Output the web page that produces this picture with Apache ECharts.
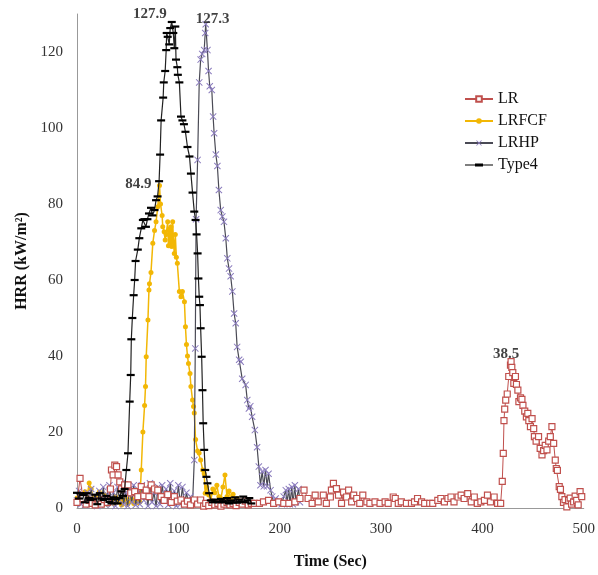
<!DOCTYPE html>
<html>
<head>
<meta charset="utf-8">
<script src="https://cdn.jsdelivr.net/npm/echarts@6/dist/echarts.min.js"></script>
<style>
html,body{margin:0;padding:0;background:#fff;}
#chart{width:598px;height:575px;}
</style>
</head>
<body>
<div id="chart"></div>
<script>
// ---- data: [time (s), HRR (kW/m2)] ----
const seriesNames = ['LR', 'LRFCF', 'LRHP', 'Type4'];

const lrData = [
[0,1.5],[3,7.8],[6,2.5],[9,1],[12,2],[15,1.2],[18,0.8],[21,1.8],[24,1],[27,2.2],[30,1.5],[33,5],[34,10],[35.6,8.7],[37.3,11.3],[39,10.9],[40.5,8.7],[42.2,6.9],[44,5],[47,6.1],[50.3,6.1],[53,4],[56.9,4.3],[60,3],[63.4,5.6],[66,3.2],[68.3,4.7],[71,3],[73.2,6.1],[76.5,5],[79.7,4.7],[83,3],[86,2],[89.5,3.5],[93,1.5],[96,3],[99,1.8],[102.6,2.1],[106,1],[109,1.8],[112,0.8],[115.7,2.1],[119,1],[122,2.1],[125,0.5],[127,1.2],[130,0.6],[133,1.5],[136,0.8],[139,1.2],[142,0.5],[145,1.0],[148,1.5],[151,0.8],[154,1.2],[157,0.6],[160,1.5],[163,1.0],[166,1.8],[169,0.8],[172,1.2],[175,1.2],[180,1.2],[184,1.6],[189,2.0],[194,1.2],[199,1.6],[204,1.2],[209,1.2],[215,1.6],[220,2.5],[224,4.7],[228,2.5],[232,1.2],[235,3.4],[238,1.6],[243,3.4],[246,1.2],[250,2.9],[251,4.7],[253,6.5],[256,5.1],[258,3.4],[261,1.2],[263,4.2],[266,2.9],[268,4.7],[271,1.6],[273,3.4],[276,2.5],[279,1.2],[282,3.4],[286,1.6],[289,1.2],[294,1.6],[299,1.2],[304,1.6],[307,1.2],[312,2.9],[314,2.5],[317,1.2],[320,1.6],[325,1.2],[330,1.2],[333,1.6],[336,2.5],[340,1.6],[343,1.2],[348,1.2],[351,1.2],[356,2.0],[359,2.5],[362.5,1.6],[366,2.5],[369,2.9],[372,1.6],[376,2.9],[379,3.4],[382,2.5],[385.5,3.8],[389,1.6],[392,2.9],[395,1.2],[398.5,1.6],[402,2.0],[405,3.4],[408,1.6],[411.6,2.9],[415,1.2],[418,1.2],[419.6,7],[420.6,14.4],[421.3,23],[422,26],[423,28.4],[424.5,30],[426,34.6],[427.7,37.6],[428.3,38.5],[429,37],[430,35.6],[431,32.8],[432.6,34.6],[433.6,32.5],[435,31],[436,28],[437.6,29],[439,28.6],[440,27],[441.8,25.5],[443.4,24],[444.8,24.9],[445.8,23],[447.4,21.4],[449,23.5],[450.6,20.9],[451.3,18.8],[453,17.6],[455.4,18.8],[457,15.7],[458.8,14],[460.4,15.1],[462,16.5],[463.7,15.3],[465.4,17.6],[467,18.8],[468.6,21.4],[470.3,17],[471.9,12.6],[472.9,10.4],[474,9.9],[475.8,5.6],[477,4.9],[478.4,3],[480,1.5],[481.5,2.2],[483.3,0.3],[485,2],[486.6,2.6],[488,1],[490,1.6],[491.5,3.1],[493,2],[494.5,0.8],[496.4,4.3],[498,3]
];

const lrfcfData = [
[0,2.6],[2,1.5],[4,3.5],[6,2.2],[8,4.3],[10,3.0],[12,6.6],[14,5.0],[16,2.5],[18,3.0],[20,1.5],[22,4.2],[24,2.2],[26,2.0],[28,3.4],[30,1.0],[32,2.5],[34,1.8],[36,1.2],[38,3.0],[40,1.5],[42,2.2],[44,0.8],[46,1.8],[48,2.5],[50,1.0],[52,1.8],[54,2.4],[56,1.2],[58,2.0],[60,1.4],[62,1.6],
[63.4,10],[65,20],[66.7,27],[67.6,32],[68.3,39.8],[70,49.5],[71,57.4],[71.5,59],[73,62],[74.8,69.7],[76.5,73],[78,75.3],[79.7,79.3],[81.4,84.9],[82.4,80],[84,77],[84.6,74],[86,72.7],[87,70.5],[88,72],[89.5,75.3],[90.2,69],[91,73.4],[92,69],[92.8,74],[93.6,68.8],[94.4,75.3],[95.2,70],[96,67],[97,72],[98,66],[99,64.4],[101,57],[102.6,55.6],[104,57],[106,54.3],[107,47.7],[108,43],[109,40],[110,38],[111.5,35.4],[112.4,32],[114,28.4],[115,26.7],[115.7,25],[117,18],[119,15],[120.5,14.5],[122,12.6],[124,10],[125.5,9],[126.5,3.9],[128,5.5],[130,3.4],[132,2],[134,5],[136,4],[138,6],[140,3],[142,2.5],[144,5.5],[146,8.7],[148,3],[150,4.5],[152,2],[154,3.6],[156,1.5],[158,2.5],[160,1.2]
];

const lrhpData = [
[0,2],[2,4.5],[4,1],[6,3.5],[8,0.8],[10,4],[12,2],[14,5],[16,1.2],[18,3],[20,0.5],[22,4.5],[24,1.5],[26,5.5],[28,0.8],[30,3.5],[32,6],[34,1],[36,4],[38,0.5],[40,5.5],[42,2],[44,6.5],[46,1],[48,4],[50,0.5],[52,5],[54,1.5],[56,6],[58,0.8],[60,4.5],[62,1],[64,6],[66,2],[68,5],[70,0.5],[72,6.5],[74,1.5],[76,4],[78,0.5],[80,5.5],[82,1],[84,6],[86,2],[88,5],[90,0.8],[92,6.5],[94,1.2],[96,4.5],[98,0.5],[100,6],[102,1],[104,5.5],[106,0.8],[108,4],[110,1.5],[112,3],[114,1],
[115.7,12.6],[116.7,42],[117.5,76],[119,91.6],[120.6,112],[122,118],[123.5,119.5],[125.5,120.5],[126.5,125],[127,127.3],[128.7,120.5],[129.8,115],[131,111],[133,110],[134.3,103],[135.3,98.6],[137,93],[138.5,90],[140,83.7],[141.8,78.4],[143.4,76.7],[145,75.3],[146.8,71],[148.3,65.7],[150,63],[151.6,61],[153.3,57],[155,51.2],[156.6,48.6],[158,42.4],[160,39],[161.6,38.5],[163,34],[166.4,32.4],[168,28.4],[169.6,26.2],[171,26.8],[172.8,24],[175.5,20.5],[177.7,16],[179.4,10.9],[181,6],[182.7,9.6],[184.3,5.7],[186,10],[187.6,5.7],[189,9],[191,4.7],[192.6,3],[194,1.5],[196,2.5],[198,1.2],[200,2],[202,1],[204,3],[206,4.7],[207,1.2],[209,5],[210,1],[212,5.5],[213,1],[215,6],[216,1.5],[218.6,5],[220,1.5]
];

const type4Data = [
[0,4.0],[2,2.5],[3,3.9],[6,3.4],[8,1.5],[9.5,3.9],[12,2.6],[13,2.1],[16,2.3],[18,3.5],[20,1.0],[22.5,3.9],[24,2.5],[26,2.1],[29,3.2],[31,2.4],[32,1.6],[34,1.2],[36,2.8],[38,2.3],[40,1.2],[42,2.6],[44,4.4],[45.4,3.2],
[47,5],[48.7,10],[50.3,14.4],[52,28],[53,35],[53.6,44.4],[54.6,50],[55.9,56],[56.9,60],[57.8,65],[60,68],[61.5,71],[63.4,73.6],[65,75.8],[66.5,76],[68,74],[69.5,76],[71,77.5],[73,79],[74.5,77],[76.5,78.4],[78,81],[79.5,82],[81,86],[82,93],[83,102],[85,108],[85.6,112],[87,115],[88,120.5],[88.5,125],[89.5,124],[91,122],[92,126.3],[93.5,127.9],[95,125],[96,121],[97,126.7],[97.7,118],[99,116],[99.5,114],[101,112],[102.6,103],[104,102],[105.5,101],[107,99],[109,95],[111,92.5],[112.4,88],[114,83],[115.7,78],[117,75.8],[118,72],[119,67],[119.8,60.4],[120.6,55.6],[121.3,53.4],[122,47.3],[123,39.8],[123.8,31],[124.5,22.3],[125.5,15.3],[126.5,10],[127.7,8.2],[128.7,6.5],[130.4,3.9],
[132,2],[134,1.5],[136,2.2],[138,1.6],[140,1.5],[142,2.4],[144,1.8],[146,1.5],[148,2.6],[150,1.2],[152,2.0],[154,1.5],[156,2.8],[158,1.4],[160,2.2],[162,1.6],[164,3.0],[166,1.5],[168,2.0],[170,2.6],[172,1.2]
];

// peak annotations: [time, HRR]
const peakPoints = [[93.5,127.9],[127,127.3],[81.4,84.9],[428.3,38.5]];

// axis ticks
const xTicks = [0,100,200,300,400,500];
const yTicks = [0,20,40,60,80,100,120];

// ---- styling (kept separate from data) ----
const peakOffsets = [[-22,-8],[7,-5],[-21,-1],[-5,-8]];
const serif = '"Liberation Serif","Times New Roman",serif';
const xSym = 'path://M0,1L1,0L5,4L9,0L10,1L6,5L10,9L9,10L5,6L1,10L0,9L4,5Z';
const type4Icon = 'path://M0,3.4L28,3.4L28,4.6L0,4.6Z M10,2.6L18,2.6L18,5.4L10,5.4Z';

const chart = echarts.init(document.getElementById('chart'));
chart.setOption({
  animation: false,
  backgroundColor: '#fff',
  grid: {left: 77, right: 11, top: 14, bottom: 67},
  legend: {
    orient: 'vertical', left: 459, top: 86,
    itemGap: 6, itemWidth: 28, itemHeight: 7,
    data: [
      {name: seriesNames[0]},
      {name: seriesNames[1]},
      {name: seriesNames[2]},
      {name: seriesNames[3], icon: type4Icon, itemStyle: {color: '#000'}}
    ],
    textStyle: {fontFamily: serif, fontSize: 16, color: '#111'}
  },
  xAxis: {
    type: 'value', min: xTicks[0], max: xTicks[xTicks.length-1], interval: xTicks[1]-xTicks[0],
    name: 'Time (Sec)', nameLocation: 'middle', nameGap: 46,
    nameTextStyle: {fontFamily: serif, fontSize: 16, fontWeight: 'bold', color: '#111'},
    axisLine: {show: true, lineStyle: {color: '#999', width: 1}},
    axisTick: {show: false},
    splitLine: {show: false},
    axisLabel: {fontFamily: serif, fontSize: 15, color: '#333', margin: 14}
  },
  yAxis: {
    type: 'value', min: 0, max: 130, interval: yTicks[1]-yTicks[0],
    name: 'HRR (kW/m²)', nameLocation: 'middle', nameGap: 45, nameRotate: 90,
    nameTextStyle: {fontFamily: serif, fontSize: 16, fontWeight: 'bold', color: '#111'},
    axisLine: {show: true, lineStyle: {color: '#999', width: 1}},
    axisTick: {show: false},
    splitLine: {show: false},
    axisLabel: {fontFamily: serif, fontSize: 15, color: '#333', margin: 14, showMaxLabel: false,
      formatter: v => (yTicks.indexOf(v) >= 0 ? String(v) : '')}
  },
  series: [
    {
      name: 'LRFCF', type: 'line', data: lrfcfData, z: 2,
      symbol: 'circle', symbolSize: 5, showAllSymbol: true,
      lineStyle: {color: '#f2b705', width: 1.5},
      itemStyle: {color: '#f2b705'}
    },
    {
      name: 'LRHP', type: 'line', data: lrhpData, z: 3,
      symbol: xSym, symbolSize: 7, showAllSymbol: true,
      lineStyle: {color: '#4a4a55', width: 1.2},
      itemStyle: {color: '#8a7bbd'}
    },
    {
      name: 'LR', type: 'line', data: lrData, z: 4,
      symbol: 'rect', symbolSize: 6, showAllSymbol: true,
      lineStyle: {color: '#c0504d', width: 1},
      itemStyle: {color: '#fff', borderColor: '#c0504d', borderWidth: 1.2}
    },
    {
      name: 'Type4', type: 'line', data: type4Data, z: 5,
      symbol: 'rect', symbolSize: [8, 2.2], showAllSymbol: true,
      lineStyle: {color: '#222', width: 1.2},
      itemStyle: {color: '#000'}
    },
    {
      name: 'peaks', type: 'scatter', z: 10, symbolSize: 0, silent: true,
      data: peakPoints.map((p, i) => ({
        value: p,
        label: {show: true, position: 'inside', offset: peakOffsets[i],
          formatter: String(p[1]), fontFamily: serif, fontSize: 15, fontWeight: 'bold', color: '#111'}
      }))
    }
  ]
});
</script>
</body>
</html>
